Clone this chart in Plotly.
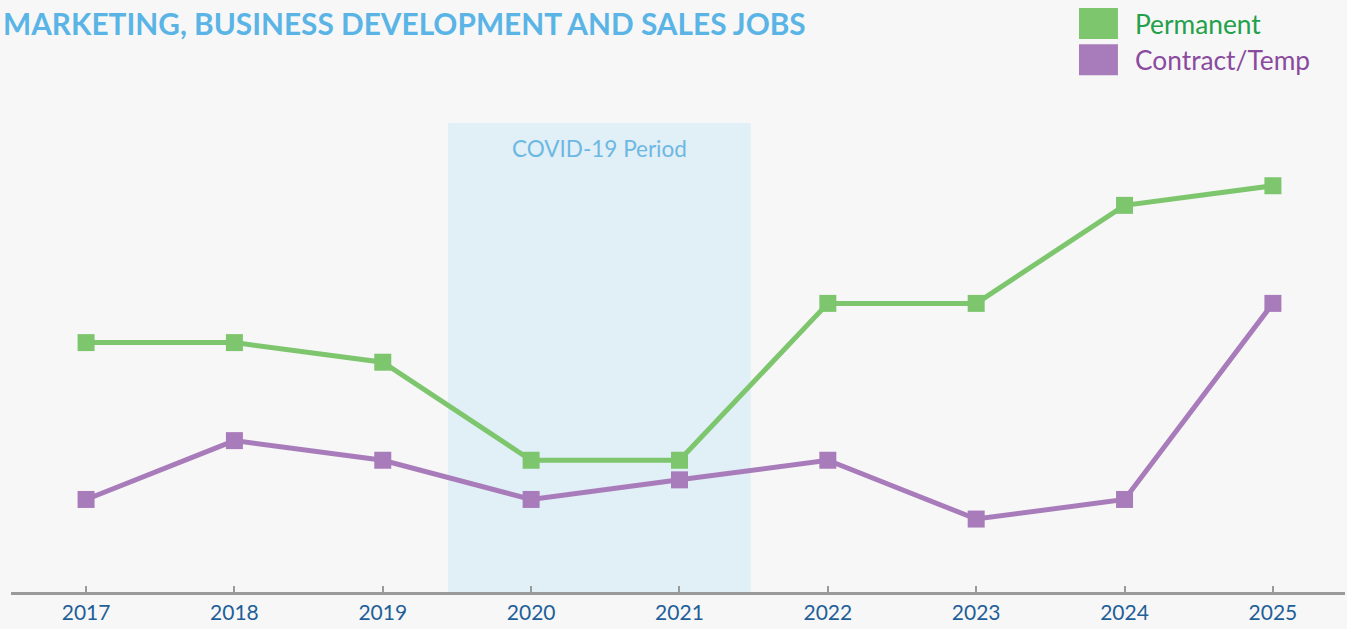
import plotly.graph_objects as go

years = [2017, 2018, 2019, 2020, 2021, 2022, 2023, 2024, 2025]
permanent = [10, 10, 9, 4, 4, 12, 12, 17, 18]
contract_temp = [2, 5, 4, 2, 3, 4, 1, 2, 12]

covid_start, covid_end = 2019.44, 2021.48

GREEN = "#7DC66E"
PURPLE = "#A87CBA"
BG = "#F7F7F7"

fig = go.Figure()
fig.add_trace(go.Scatter(
    x=years, y=permanent, name="Permanent", mode="lines+markers",
    line=dict(color=GREEN, width=5),
    marker=dict(symbol="square", size=17, color=GREEN),
))
fig.add_trace(go.Scatter(
    x=years, y=contract_temp, name="Contract/Temp", mode="lines+markers",
    line=dict(color=PURPLE, width=5),
    marker=dict(symbol="square", size=17, color=PURPLE),
))

# COVID band
fig.add_shape(type="rect", xref="x", yref="paper",
              x0=covid_start, x1=covid_end, y0=0, y1=1,
              fillcolor="#DEEDF6", line_width=0, layer="below", opacity=0.9)
fig.add_annotation(x=(covid_start + covid_end) / 2, y=0.945, xref="x", yref="paper",
                   text="COVID-19 Period", showarrow=False, yanchor="middle",
                   font=dict(family="Lato", size=22.5, color="#6DB8E3"))

# Legend drawn as swatches + labels
legend_items = [("Permanent", GREEN, "#22A04A", 1.245, 1.179),
                ("Contract/Temp", PURPLE, "#8A4A9E", 1.168, 1.102)]
for label, swatch, txt, ytop, ybot in legend_items:
    fig.add_shape(type="rect", xref="paper", yref="paper",
                  x0=0.8006, x1=0.8298, y0=ybot, y1=ytop,
                  fillcolor=swatch, line_width=0)
    fig.add_annotation(x=0.841, y=(ytop + ybot) / 2, xref="paper", yref="paper",
                       text=label, showarrow=False, xanchor="left", yanchor="middle",
                       font=dict(family="Lato", size=26.3, color=txt))

fig.add_annotation(x=-0.0075, y=1.213, xref="paper", yref="paper",
                   text="<b>MARKETING, BUSINESS DEVELOPMENT AND SALES JOBS</b>",
                   showarrow=False, xanchor="left", yanchor="middle",
                   font=dict(family="Lato", size=29.8, color="#5AB4E6"))

fig.update_layout(
    width=1347, height=629,
    margin=dict(l=11, r=2, t=123, b=37),
    paper_bgcolor=BG, plot_bgcolor=BG,
    showlegend=False,
    xaxis=dict(range=[2016.494, 2025.486], tickvals=years,
               showgrid=False, zeroline=False,
               showline=True, linecolor="#9A9A9A", linewidth=2.5,
               ticks="inside", ticklen=6, tickwidth=2, tickcolor="#9A9A9A",
               tickfont=dict(family="Lato", size=21, color="#1F5F99")),
    yaxis=dict(range=[-2.72, 21.2], visible=False, showgrid=False, zeroline=False),
)

fig.write_html("out.html")
